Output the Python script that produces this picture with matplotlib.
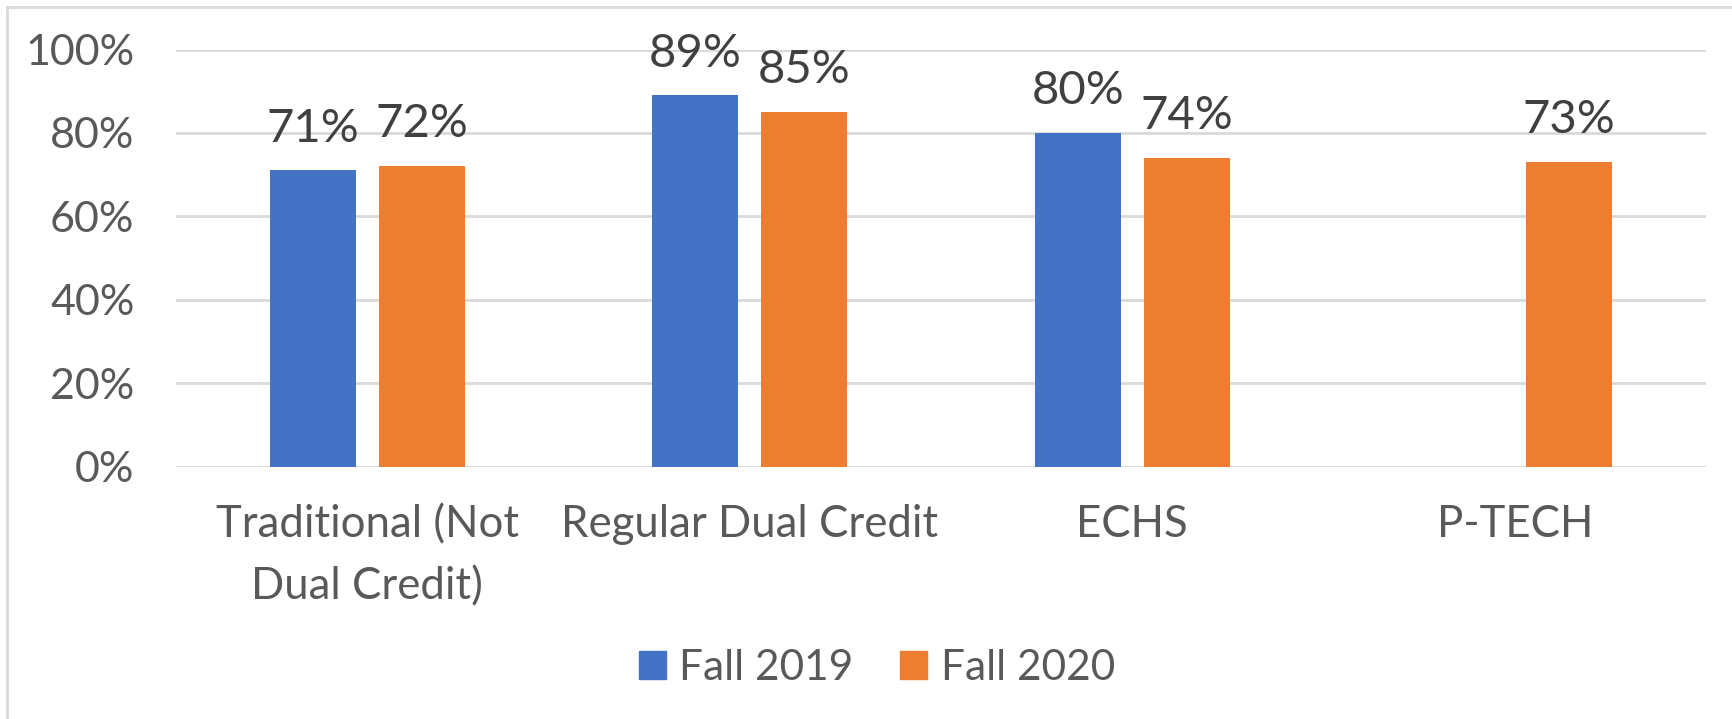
import numpy as np
import matplotlib.pyplot as plt
from matplotlib.lines import Line2D
from matplotlib.ticker import PercentFormatter

# chart data
categories = ["Traditional (Not\nDual Credit)", "Regular Dual Credit", "ECHS", "P-TECH"]
fall_2019 = [71, 89, 80, np.nan]
fall_2020 = [72, 85, 74, 73]
series_names = ["Fall 2019", "Fall 2020"]
y_ticks = [0, 20, 40, 60, 80, 100]

BLUE = "#4472C4"
ORANGE = "#ED7D31"
TICK_GREY = "#595959"
LABEL_GREY = "#404040"
GRID = "#D9D9D9"

plt.rcParams['font.family'] = ['Lato', 'DejaVu Sans']

fig = plt.figure(figsize=(17.32, 7.19), dpi=100)
ax = fig.add_axes([176 / 1732, 1 - 466.5 / 719, 1530 / 1732, 417 / 719])

x = np.arange(len(categories))
width = 0.225
offset = 0.1425

bars1 = ax.bar(x - offset, fall_2019, width, color=BLUE, label=series_names[0], zorder=3)
bars2 = ax.bar(x + offset, fall_2020, width, color=ORANGE, label=series_names[1], zorder=3)

for bars, vals in [(bars1, fall_2019), (bars2, fall_2020)]:
    for b, v in zip(bars, vals):
        if np.isnan(v):
            continue
        ax.annotate(f"{v:.0f}%", (b.get_x() + b.get_width() / 2, v),
                    xytext=(0, 15), textcoords="offset points",
                    ha="center", va="bottom", fontsize=34, color=LABEL_GREY)

ax.set_xlim(-0.5, len(categories) - 0.5)
ax.set_ylim(0, 100)
ax.set_yticks(y_ticks)
ax.yaxis.set_major_formatter(PercentFormatter(decimals=0))
ax.set_xticks(x)
ax.set_xticklabels(categories, linespacing=1.62)
ax.tick_params(axis="y", length=0, pad=30, labelsize=31, labelcolor=TICK_GREY)
ax.tick_params(axis="x", length=0, pad=27, labelsize=31.5, labelcolor=TICK_GREY)
ax.grid(axis="y", color=GRID, linewidth=2, zorder=0)
for s in ax.spines.values():
    s.set_visible(False)

handles = [plt.Rectangle((0, 0), 1, 1, color=BLUE), plt.Rectangle((0, 0), 1, 1, color=ORANGE)]
fig.legend(handles, series_names, loc="center", bbox_to_anchor=(877 / 1732, 1 - 668 / 719),
           ncol=2, frameon=False, fontsize=30.5, labelcolor=TICK_GREY,
           handlelength=0.63, handleheight=0.63, handletextpad=0.32, columnspacing=1.1)

# outer chart border (top and left edges visible)
fig.add_artist(Line2D([7 / 1732, 7 / 1732], [0, 1 - 7 / 719], color=GRID, linewidth=2))
fig.add_artist(Line2D([7 / 1732, 1], [1 - 7 / 719, 1 - 7 / 719], color=GRID, linewidth=2))

fig.savefig("out.png", dpi=100, facecolor="white")
